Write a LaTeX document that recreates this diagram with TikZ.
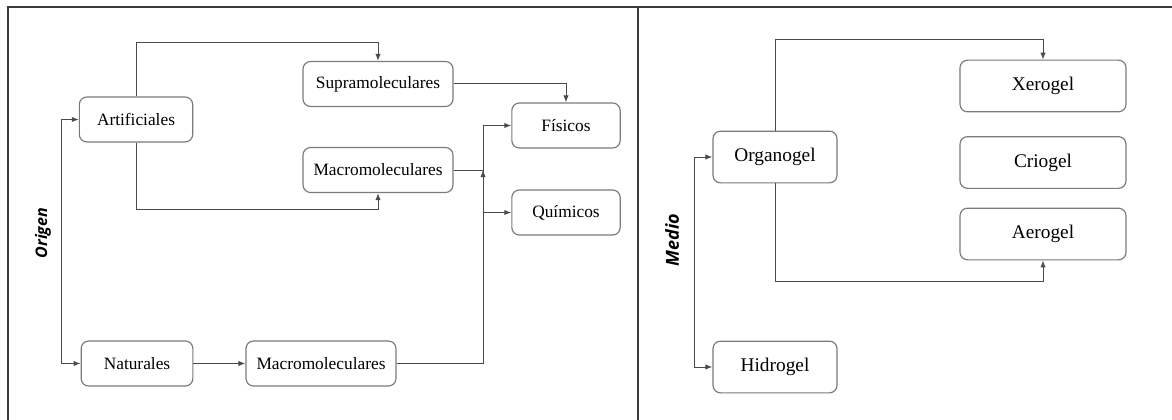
\documentclass[tikz,border=0pt]{standalone}
\usepackage{fontspec}
\setmainfont{Liberation Serif}
\newfontfamily\etiq{Open Sans}
\usepackage{tikz}
\usetikzlibrary{
    arrows.meta,
    calc
}
\definecolor{marco}{HTML}{3A3A3A}
\definecolor{borde}{HTML}{7A7A7A}
\definecolor{linea}{HTML}{4A4A4A}
\tikzset{
    % caja redondeada de cada clase
    caja/.style={
        draw=borde, line width=0.7pt, rounded corners=4.5pt,
        minimum height=27pt, inner sep=2pt,
        font=\fontsize{10.4}{12}\selectfont
    },
    cajab/.style={
        caja, minimum height=31pt,
        font=\fontsize{11.6}{13}\selectfont
    },
    % conector con punta
    flecha/.style={
        draw=linea, line width=0.6pt,
        -{Latex[length=4.2pt,width=3.2pt]}
    },
    dobleflecha/.style={
        flecha, {Latex[length=4.2pt,width=3.2pt]}-{Latex[length=4.2pt,width=3.2pt]}
    },
    eje/.style={
        rotate=90, font=\etiq\bfseries\itshape\fontsize{9.6}{11}\selectfont
    }
}

\begin{document}
\begin{tikzpicture}[x=0.6pt, y=-0.6pt]
    \useasboundingbox (0,0) rectangle (1172,420);
    % marco de la tabla
    \coordinate (esq) at (7.5,7.5);
    \coordinate (div) at (637.5,7.5);
    \draw[marco, line width=1.2pt] (1172,7.5) -- (esq) -- (7.5,420);
    \draw[marco, line width=1.2pt] (div) -- (637.5,420);

    % origen
    \node at (43,233)[eje] (origen) {Origen};
    \node at (136,119.5)[caja, minimum width=68pt] (artif) {Artificiales};
    \node at (137,363.5)[caja, minimum width=67pt] (natur) {Naturales};
    \node at (378,84)[caja, minimum width=90pt] (supra) {Supramoleculares};
    \node at (378,170)[caja, minimum width=90pt] (macroA) {Macromoleculares};
    \node at (321,363.5)[caja, minimum width=90pt] (macroN) {Macromoleculares};
    \node at (566,125.5)[caja, minimum width=65pt] (fisicos) {Físicos};
    \node at (566,212.5)[caja, minimum width=65pt] (quimicos) {Químicos};
    \coordinate (junta) at (483,170);

    \draw[dobleflecha] (artif.west) -- ++(-17,0) |- (natur.west);
    \draw[flecha] (artif.north) -- ++(0,-54) -| (supra.north);
    \draw[flecha] (artif.south) -- ++(0,67) -| (macroA.south);
    \draw[flecha] (supra.east) -| (fisicos.north);
    \draw[flecha] (natur.east) -- (macroN.west);
    \draw[linea, line width=0.6pt] (macroA.east) -- (junta);
    \draw[flecha] (macroN.east) -| (junta);
    \foreach \destino in {fisicos, quimicos} {
        \draw[flecha] (junta) |- (\destino.west);
    }

    % medio
    \node at (672,240)[eje, font=\etiq\bfseries\itshape\fontsize{10.8}{12}\selectfont] (medio) {Medio};
    \node at (775,157)[cajab, minimum width=74.4pt] (organo) {Organogel};
    \node at (775,367)[cajab, minimum width=74.4pt] (hidro) {Hidrogel};
    \node at (1043,86)[cajab, minimum width=99.6pt] (xero) {Xerogel};
    \node at (1043,162.5)[cajab, minimum width=99.6pt] (crio) {Criogel};
    \node at (1043,234)[cajab, minimum width=99.6pt] (aero) {Aerogel};

    \draw[dobleflecha] (organo.west) -- ++(-18,0) |- (hidro.west);
    \draw[flecha] (organo.north) -- ++(0,-91) -| (xero.north);
    \draw[flecha] (organo.south) -- ++(0,98) -| (aero.south);
\end{tikzpicture}
\end{document}
